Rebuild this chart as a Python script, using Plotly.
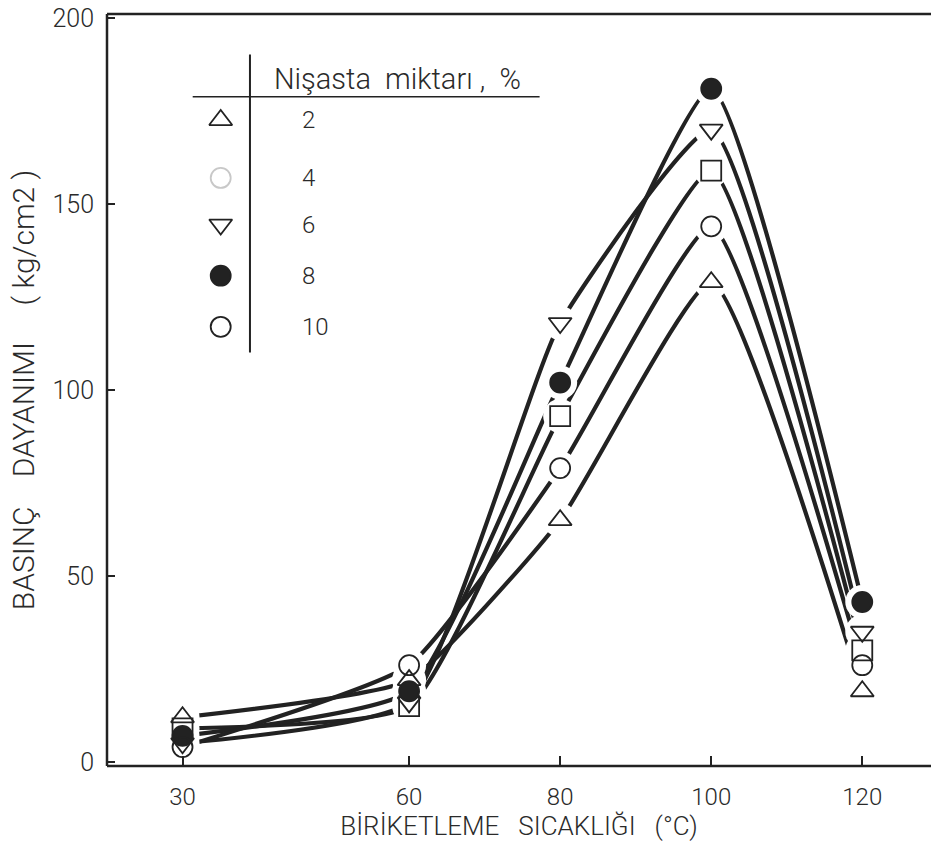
import plotly.graph_objects as go

# ---- data ----
temps = [30, 60, 80, 100, 120]
starch_labels = ["2", "4", "6", "8", "10"]
s2 = [12, 22, 65, 129, 19]
s4 = [9, 15, 93, 159, 30]
s6 = [5, 16, 118, 170, 35]
s8 = [7, 19, 102, 181, 43]
s10 = [4, 26, 79, 144, 26]
series = [s2, s4, s6, s8, s10]
symbols = ["triangle-up-open", "square-open", "triangle-down-open", "circle", "circle-open"]
x_ticks = [30, 60, 80, 100, 120]
y_ticks = [0, 50, 100, 150, 200]

INK = "#222222"
TXT = "#2a2a2a"
FONT = "Roboto"
W = 300

X_RANGE = [20, 129.1]
Y_RANGE = [-1.1, 201.1]

fig = go.Figure()

# curves
for vals in series:
    fig.add_trace(go.Scatter(x=temps, y=vals, mode="lines",
                             line=dict(color=INK, width=4.2, shape="spline", smoothing=0.45),
                             showlegend=False, hoverinfo="skip"))
# white knock-outs to create the gaps around the markers
for vals in series:
    fig.add_trace(go.Scatter(x=temps, y=vals, mode="markers",
                             marker=dict(symbol="circle", size=34, color="white",
                                         line=dict(width=0)),
                             showlegend=False, hoverinfo="skip"))
# markers
for vals, sym in zip(series, symbols):
    fig.add_trace(go.Scatter(x=temps, y=vals, mode="markers",
                             marker=dict(symbol=sym, size=20, color=INK,
                                         line=dict(width=1.8, color=INK)),
                             showlegend=False, hoverinfo="skip"))

# ---- inset legend table (positioned in paper fractions of the plot area) ----
leg_sym_x = 0.138
leg_text_x = 0.234
leg_rows = [0.859, 0.782, 0.720, 0.652, 0.584]
leg_colors = [INK, "#c8c8c8", INK, INK, INK]
leg_symbols = ["triangle-up-open", "circle-open", "triangle-down-open", "circle", "circle-open"]


def px_x(p):
    return X_RANGE[0] + p * (X_RANGE[1] - X_RANGE[0])


def px_y(p):
    return Y_RANGE[0] + p * (Y_RANGE[1] - Y_RANGE[0])


fig.add_trace(go.Scatter(x=[px_x(leg_sym_x)] * len(leg_rows), y=[px_y(r) for r in leg_rows],
                         mode="markers",
                         marker=dict(symbol=leg_symbols, size=20, color=leg_colors,
                                     line=dict(width=1.8, color=leg_colors)),
                         showlegend=False, hoverinfo="skip"))
for r, lab in zip(leg_rows, starch_labels):
    fig.add_annotation(x=leg_text_x, y=r, xref="paper", yref="paper", text=lab,
                       showarrow=False, xanchor="left", yanchor="middle",
                       font=dict(family=FONT, size=24, color=TXT, weight=W))

fig.add_annotation(x=0.353, y=0.914, xref="paper", yref="paper", text="Nişasta  miktarı ,  %",
                   showarrow=False, xanchor="center", yanchor="middle",
                   font=dict(family=FONT, size=29, color=TXT, weight=W))
fig.add_shape(type="line", xref="paper", yref="paper", x0=0.1735, x1=0.1735, y0=0.550, y1=0.946,
              line=dict(color=INK, width=2))
fig.add_shape(type="line", xref="paper", yref="paper", x0=0.104, x1=0.525, y0=0.890, y1=0.890,
              line=dict(color=INK, width=1.5))

# frame (bottom, top, left) drawn as paper shapes so it reaches the right edge
for x0, x1, y0, y1 in [(0, 1, 0, 0), (0, 1, 1, 1), (0, 0, 0, 1)]:
    fig.add_shape(type="line", xref="paper", yref="paper", x0=x0, x1=x1, y0=y0, y1=y1,
                  line=dict(color=INK, width=2.5), layer="above")

fig.update_layout(
    width=931, height=852,
    margin=dict(l=107, r=0, t=14, b=86),
    paper_bgcolor="white", plot_bgcolor="white",
    font=dict(family=FONT, color=TXT),
    xaxis=dict(range=X_RANGE, tickvals=x_ticks, ticktext=[str(v) for v in x_ticks],
               ticks="inside", ticklen=10, tickwidth=1.5, tickcolor=INK,
               showline=False, showgrid=False, zeroline=False, ticklabelstandoff=14,
               tickfont=dict(family=FONT, size=24, color=TXT, weight=W),
               title=dict(text="BİRİKETLEME   SICAKLIĞI   (°C)",
                          font=dict(family=FONT, size=26, color=TXT, weight=W), standoff=4)),
    yaxis=dict(range=Y_RANGE, tickvals=y_ticks, ticktext=[str(v) for v in y_ticks],
               ticks="inside", ticklen=8, tickwidth=1.5, tickcolor=INK,
               showline=False, showgrid=False, zeroline=False, ticklabelstandoff=12,
               tickfont=dict(family=FONT, size=25, color=TXT, weight=W),
               title=dict(text="BASINÇ    DAYANIMI     ( kg/cm2 )",
                          font=dict(family=FONT, size=30, color=TXT, weight=W), standoff=8)),
)

fig.write_html("out.html")
